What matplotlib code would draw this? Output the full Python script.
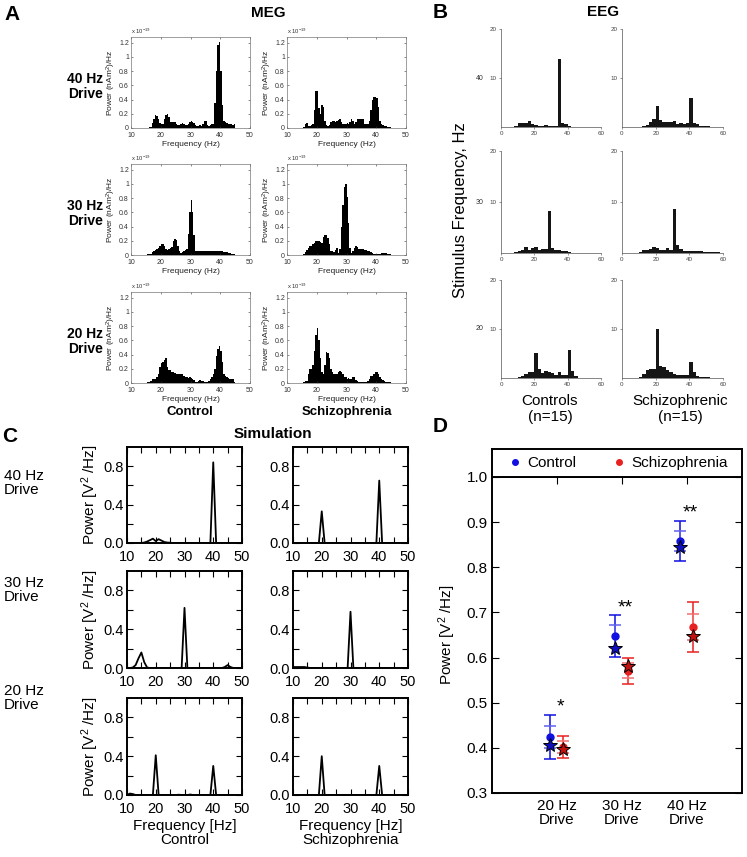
import numpy as np
import matplotlib
matplotlib.use("Agg")
import matplotlib.pyplot as plt

plt.rcParams['font.family'] = ['Liberation Sans', 'DejaVu Sans']
plt.rcParams['mathtext.fontset'] = 'custom'
plt.rcParams['mathtext.rm'] = 'Liberation Sans'
plt.rcParams['mathtext.it'] = 'Liberation Sans:italic'

# ---------------- A: MEG spectra, 0.5 Hz bins from 15 to 45 Hz (x 1e-19)
meg_edges = np.arange(15, 45.5, 0.5)
meg_ctrl40 = [0, 0, 0.01, 0.02, 0.07, 0.13, 0.18, 0.17, 0.12, 0.07,
              0.05, 0.06, 0.13, 0.18, 0.20, 0.15, 0.09, 0.08, 0.08, 0.08,
              0.05, 0.04, 0.04, 0.06, 0.07, 0.05, 0.04, 0.04, 0.06, 0.09,
              0.10, 0.09, 0.07, 0.04, 0.03, 0.03, 0.04, 0.03, 0.06, 0.10,
              0.10, 0.04, 0.03, 0.04, 0.05, 0.05, 0.35, 0.80, 1.17, 1.21,
              0.80, 0.32, 0.10, 0.08, 0.07, 0.06, 0.05, 0.05, 0.04, 0.05]
meg_scz40 = [0, 0.02, 0.05, 0.07, 0.03, 0.03, 0.04, 0.06, 0.25, 0.52,
             0.52, 0.28, 0.20, 0.33, 0.30, 0.10, 0.04, 0.03, 0.04, 0.09,
             0.10, 0.10, 0.09, 0.10, 0.11, 0.12, 0.08, 0.06, 0.05, 0.06,
             0.07, 0.06, 0.08, 0.12, 0.10, 0.06, 0.08, 0.13, 0.13, 0.12,
             0.13, 0.12, 0.06, 0.05, 0.06, 0.10, 0.25, 0.40, 0.44, 0.43,
             0.42, 0.30, 0.10, 0.05, 0.04, 0.03, 0.03, 0.02, 0.02, 0.01]
meg_ctrl30 = [0, 0.01, 0.01, 0.02, 0.04, 0.05, 0.07, 0.08, 0.10, 0.13,
              0.15, 0.16, 0.12, 0.09, 0.07, 0.08, 0.10, 0.11, 0.20, 0.22,
              0.21, 0.12, 0.05, 0.03, 0.04, 0.06, 0.07, 0.08, 0.30, 0.60,
              0.77, 0.60, 0.28, 0.06, 0.05, 0.05, 0.05, 0.05, 0.05, 0.05,
              0.05, 0.05, 0.05, 0.05, 0.05, 0.05, 0.05, 0.05, 0.06, 0.06,
              0.05, 0.05, 0.04, 0.04, 0.04, 0.03, 0.03, 0.02, 0.02, 0.01]
meg_scz30 = [0, 0.01, 0.04, 0.07, 0.10, 0.12, 0.13, 0.15, 0.17, 0.19,
             0.19, 0.20, 0.18, 0.17, 0.25, 0.28, 0.28, 0.24, 0.15, 0.05,
             0.05, 0.04, 0.07, 0.10, 0.03, 0.08, 0.40, 0.70, 0.95, 1.00,
             0.82, 0.45, 0.10, 0.03, 0.05, 0.10, 0.12, 0.11, 0.09, 0.08,
             0.08, 0.08, 0.07, 0.07, 0.06, 0.05, 0.04, 0.03, 0.02, 0.02,
             0.01, 0.01, 0.02, 0.03, 0.03, 0.03, 0.03, 0.02, 0.02, 0.01]
meg_ctrl20 = [0, 0.01, 0.02, 0.03, 0.06, 0.06, 0.05, 0.08, 0.12, 0.22,
              0.28, 0.30, 0.33, 0.35, 0.22, 0.18, 0.18, 0.16, 0.16, 0.14,
              0.13, 0.13, 0.13, 0.12, 0.12, 0.10, 0.09, 0.08, 0.07, 0.08,
              0.07, 0.05, 0.04, 0.02, 0.02, 0.03, 0.04, 0.03, 0.03, 0.02,
              0.02, 0.02, 0.03, 0.05, 0.08, 0.12, 0.20, 0.38, 0.48, 0.52,
              0.45, 0.30, 0.12, 0.10, 0.08, 0.07, 0.06, 0.05, 0.05, 0.02]
meg_scz20 = [0, 0.01, 0.03, 0.03, 0.12, 0.20, 0.20, 0.25, 0.45, 0.68,
             0.78, 0.60, 0.35, 0.15, 0.12, 0.25, 0.43, 0.42, 0.35, 0.20,
             0.15, 0.12, 0.12, 0.12, 0.15, 0.17, 0.16, 0.12, 0.08, 0.08,
             0.06, 0.07, 0.05, 0.05, 0.08, 0.09, 0.04, 0.03, 0.02, 0.02,
             0.02, 0.02, 0.02, 0.02, 0.03, 0.06, 0.10, 0.10, 0.13, 0.15,
             0.15, 0.12, 0.08, 0.05, 0.04, 0.03, 0.02, 0.02, 0.01, 0.01]

# ---------------- B: EEG histograms, 2 Hz bins from 0 to 60 Hz
eeg_edges = np.arange(0, 61, 2)
eeg_ctrl40 = [0, 0.05, 0.1, 0.1, 0.3, 0.8, 0.8, 0.9, 1.3, 0.6,
              0.5, 0.3, 0.3, 0.5, 0.3, 0.3, 0.2, 13.9, 0.8, 0.6,
              0.3, 0.1, 0, 0, 0, 0, 0, 0, 0, 0]
eeg_scz40 = [0, 0, 0, 0, 0, 0.1, 0.2, 0.5, 1.0, 1.6,
             4.2, 1.4, 1.0, 1.1, 1.1, 1.3, 0.7, 0.9, 0.7, 0.8,
             5.9, 0.9, 0.7, 0.2, 0.2, 0.2, 0.1, 0, 0, 0]
eeg_ctrl30 = [0, 0, 0, 0, 0.1, 0.3, 0.6, 1.1, 0.6, 0.9,
              1.1, 0.6, 0.8, 0.7, 8.3, 1.0, 0.6, 0.5, 0.4, 0.3,
              0.1, 0, 0, 0, 0, 0, 0, 0, 0, 0]
eeg_scz30 = [0, 0, 0, 0, 0, 0.2, 0.5, 0.6, 0.7, 1.2,
             1.0, 0.6, 0.6, 0.9, 0.5, 8.7, 1.6, 0.8, 0.3, 0.3,
             0.3, 0.3, 0.3, 0.3, 0.2, 0.1, 0.1, 0.1, 0.1, 0.05]
eeg_ctrl20 = [0, 0, 0, 0, 0, 0.2, 0.5, 0.9, 1.3, 1.3,
              5.0, 1.9, 1.1, 1.5, 1.2, 1.0, 0.7, 1.3, 0.6, 0.6,
              5.7, 1.5, 0.5, 0.1, 0, 0, 0, 0, 0, 0]
eeg_scz20 = [0, 0, 0, 0, 0.1, 0.3, 0.9, 1.6, 1.8, 1.8,
             10.0, 2.5, 2.2, 1.6, 1.2, 0.8, 0.7, 0.7, 0.6, 0.6,
             3.3, 1.2, 0.4, 0.3, 0.3, 0.3, 0.1, 0, 0, 0]
eeg_rows = ['40', '30', '20']

# ---------------- C: simulated spectra, 1 Hz steps from 10 to 50 Hz
sim_freq = np.arange(10, 51)
sim_ctrl40 = [0, 0, 0, 0, 0, 0, 0.005, 0.015, 0.03, 0.045,
              0.02, 0.04, 0.025, 0.01, 0.005, 0.003, 0, 0, 0, 0,
              0, 0, 0, 0, 0, 0, 0, 0, 0, 0,
              0.84, 0, 0, 0, 0, 0, 0, 0, 0, 0, 0]
sim_scz40 = [0, 0, 0, 0, 0, 0, 0, 0, 0, 0,
             0.33, 0, 0, 0, 0, 0, 0, 0, 0, 0,
             0, 0, 0, 0, 0, 0, 0, 0, 0, 0,
             0.65, 0, 0, 0, 0, 0, 0, 0, 0, 0, 0]
sim_ctrl30 = [0, 0, 0.005, 0.03, 0.10, 0.16, 0.06, 0.005, 0, 0,
              0, 0, 0, 0, 0, 0, 0, 0, 0, 0,
              0.62, 0, 0, 0, 0, 0, 0, 0, 0, 0,
              0, 0, 0, 0, 0.01, 0.03, 0.01, 0, 0, 0, 0]
sim_scz30 = [0.01, 0.01, 0.01, 0.01, 0.01, 0.005, 0, 0, 0, 0,
             0, 0, 0, 0, 0, 0, 0, 0, 0, 0,
             0.58, 0, 0, 0, 0, 0, 0, 0, 0, 0,
             0, 0, 0, 0, 0, 0, 0, 0, 0, 0, 0]
sim_ctrl20 = [0, 0.015, 0.01, 0, 0, 0, 0, 0, 0, 0,
              0.41, 0, 0, 0, 0, 0, 0, 0, 0.003, 0,
              0, 0, 0.005, 0, 0, 0, 0, 0, 0, 0,
              0.30, 0, 0, 0, 0, 0, 0, 0, 0, 0, 0]
sim_scz20 = [0, 0, 0, 0, 0, 0, 0, 0, 0, 0,
             0.40, 0, 0, 0, 0, 0, 0, 0, 0, 0,
             0, 0, 0, 0, 0, 0, 0, 0, 0, 0,
             0.30, 0, 0, 0, 0, 0, 0, 0, 0, 0, 0]

# ---------------- D: power at drive frequency
drive_labels = ['20 Hz\nDrive', '30 Hz\nDrive', '40 Hz\nDrive']
drive_pos = [1, 2, 3]
ctrl_mean = [0.424, 0.648, 0.858]
ctrl_err_in = [0.024, 0.024, 0.022]
ctrl_err_out = [0.048, 0.047, 0.045]
ctrl_star = [0.407, 0.622, 0.844]
scz_mean = [0.402, 0.571, 0.668]
scz_err_in = [0.013, 0.017, 0.028]
scz_err_out = [0.024, 0.029, 0.056]
scz_star = [0.398, 0.581, 0.648]
signif = ['*', '**', '**']
signif_y = [0.49, 0.71, 0.92]

W, H = 747, 857
fig = plt.figure(figsize=(W / 100, H / 100), dpi=100)


def box(l, t, r, b):
    return [l / W, 1 - b / H, (r - l) / W, (b - t) / H]


def ftext(x, y, s, **kw):
    fig.text(x / W, 1 - y / H, s, **kw)


# ---------- panel A
ftext(12, 14, 'A', fontsize=15, fontweight='bold', ha='center', va='center')
ftext(268, 13, 'MEG', fontsize=11, fontweight='bold', ha='center', va='center')
meg_data = [[meg_ctrl40, meg_scz40], [meg_ctrl30, meg_scz30], [meg_ctrl20, meg_scz20]]
meg_rows = [(37, 128), (164, 255), (292, 383)]
meg_cols = [131, 287]
for r, (t, b) in enumerate(meg_rows):
    ftext(103, (t + b) / 2 + 4, ['40 Hz', '30 Hz', '20 Hz'][r] + '\nDrive', fontsize=10,
          fontweight='bold', ha='right', va='center', linespacing=1.1)
    for c, l in enumerate(meg_cols):
        ax = fig.add_axes(box(l, t, l + 119, b))
        ax.stairs(meg_data[r][c], meg_edges, fill=True, color='black', lw=0)
        ax.set_xlim(10, 50)
        ax.set_ylim(0, 1.28)
        ax.set_xticks([10, 20, 30, 40, 50])
        ax.set_yticks([0, 0.2, 0.4, 0.6, 0.8, 1.0, 1.2])
        ax.set_yticklabels(['0', '0.2', '0.4', '0.6', '0.8', '1', '1.2'])
        ax.tick_params(direction='in', length=1.5, width=0.4, labelsize=5, top=True,
                       right=True, pad=1.5, colors='#333333')
        ax.tick_params(axis='x', pad=3)
        for s in ax.spines.values():
            s.set_linewidth(0.5)
            s.set_color('#777777')
        ax.set_xlabel('Frequency (Hz)', fontsize=6, labelpad=1, color='#222222')
        ax.set_ylabel('Power (nAm$^2$)/Hz', fontsize=6, labelpad=1, color='#222222')
        ax.text(0, 1.03, r'x 10$^{-19}$', transform=ax.transAxes, fontsize=4.2,
                color='#333333')
ftext(190, 412, 'Control', fontsize=9.5, fontweight='bold', ha='center', va='center')
ftext(347, 412, 'Schizophrenia', fontsize=9.5, fontweight='bold', ha='center', va='center')

# ---------- panel B
ftext(440, 13, 'B', fontsize=15, fontweight='bold', ha='center', va='center')
ftext(603, 12, 'EEG', fontsize=11, fontweight='bold', ha='center', va='center')
ftext(460, 210, 'Stimulus Frequency, Hz', fontsize=12, rotation=90, ha='center', va='center')
eeg_data = [[eeg_ctrl40, eeg_scz40], [eeg_ctrl30, eeg_scz30], [eeg_ctrl20, eeg_scz20]]
eeg_rowpix = [(29, 127), (151, 253), (280, 378)]
eeg_colpix = [(501, 601), (622, 723)]
for r, (t, b) in enumerate(eeg_rowpix):
    ftext(480, (t + b) / 2, eeg_rows[r], fontsize=5, ha='center', va='center', color='#333333')
    for c, (l, rr) in enumerate(eeg_colpix):
        ax = fig.add_axes(box(l, t, rr, b))
        ax.stairs(eeg_data[r][c], eeg_edges, fill=True, color='#151515', lw=0)
        ax.set_xlim(0, 60)
        ax.set_ylim(0, 20)
        ax.set_xticks([0, 20, 40, 60])
        ax.set_yticks([10, 20])
        ax.spines['top'].set_visible(False)
        ax.spines['right'].set_visible(False)
        for s in ['left', 'bottom']:
            ax.spines[s].set_linewidth(0.5)
            ax.spines[s].set_color('#555555')
        ax.tick_params(direction='out', length=1.5, width=0.4, labelsize=4.5, pad=1.5,
                       colors='#444444')
ftext(550, 409, 'Controls\n(n=15)', fontsize=11, ha='center', va='center', linespacing=1.2)
ftext(680, 409, 'Schizophrenic\n(n=15)', fontsize=11, ha='center', va='center', linespacing=1.2)

# ---------- panel C
ftext(10, 436, 'C', fontsize=15, fontweight='bold', ha='center', va='center')
ftext(273, 434, 'Simulation', fontsize=11, fontweight='bold', ha='center', va='center')
sim_data = [[sim_ctrl40, sim_scz40], [sim_ctrl30, sim_scz30], [sim_ctrl20, sim_scz20]]
sim_rows = [(447, 543), (571, 668), (698, 795)]
sim_cols = [(127, 242), (293, 408)]
sim_label_y = [483, 590, 698]
for r, (t, b) in enumerate(sim_rows):
    ftext(4, sim_label_y[r], ['40 Hz', '30 Hz', '20 Hz'][r] + '\nDrive', fontsize=11,
          ha='left', va='center', linespacing=1.05)
    for c, (l, rr) in enumerate(sim_cols):
        ax = fig.add_axes(box(l, t, rr, b))
        ax.plot(sim_freq, sim_data[r][c], color='black', lw=1.3)
        ax.set_xlim(10, 50)
        ax.set_ylim(0, 1.0)
        ax.set_xticks([10, 20, 30, 40, 50])
        ax.set_xticks(np.arange(15, 50, 10), minor=True)
        ax.set_yticks([0, 0.4, 0.8])
        ax.set_yticklabels(['0.0', '0.4', '0.8'])
        ax.set_yticks([0.2, 0.6], minor=True)
        ax.tick_params(which='both', direction='in', top=True, right=True, width=0.8,
                       labelsize=10.5, length=4)
        ax.tick_params(axis='x', which='major', pad=5)
        ax.tick_params(axis='y', which='major', pad=2)
        for s in ax.spines.values():
            s.set_linewidth(1.4)
        if c == 0:
            ax.set_ylabel('Power [V$^2$ /Hz]', fontsize=11, labelpad=2)
        if r == 2:
            ax.set_xlabel('Frequency [Hz]\n' + ['Control', 'Schizophrenia'][c], fontsize=11,
                          labelpad=2, linespacing=1.0)

# ---------- panel D
ftext(440, 426, 'D', fontsize=15, fontweight='bold', ha='center', va='center')
ax = fig.add_axes(box(492, 477, 742, 793))
x_ctrl = np.array(drive_pos) - 0.1
x_scz = np.array(drive_pos) + 0.1
ax.errorbar(x_ctrl, ctrl_mean, yerr=ctrl_err_out, fmt='none', ecolor='#1010e0', capsize=4.5,
            elinewidth=1.1, capthick=1.1)
ax.errorbar(x_ctrl, ctrl_mean, yerr=ctrl_err_in, fmt='none', ecolor='#6060f0', capsize=4.5,
            elinewidth=1.1, capthick=1.1)
ax.errorbar(x_scz, scz_mean, yerr=scz_err_out, fmt='none', ecolor='#e82020', capsize=4.5,
            elinewidth=1.1, capthick=1.1)
ax.errorbar(x_scz, scz_mean, yerr=scz_err_in, fmt='none', ecolor='#f07070', capsize=4.5,
            elinewidth=1.1, capthick=1.1)
h1, = ax.plot(x_ctrl, ctrl_mean, 'o', color='#1010e0', ms=5, ls='none')
h2, = ax.plot(x_scz, scz_mean, 'o', color='#e82020', ms=5, ls='none')
ax.plot(x_ctrl, ctrl_star, '*', mfc='#1010c0', mec='black', mew=0.7, ms=10, ls='none')
ax.plot(x_scz, scz_star, '*', mfc='#c01010', mec='black', mew=0.7, ms=10, ls='none')
for p, s, y in zip(drive_pos, signif, signif_y):
    ax.text(p + 0.05, y, s, fontsize=14, ha='center', va='center')
ax.set_xlim(0, 3.85)
ax.set_ylim(0.3, 1.0)
ax.set_xticks(drive_pos)
ax.set_xticklabels(drive_labels, fontsize=11, linespacing=1.0)
ax.set_yticks(np.arange(0.3, 1.01, 0.1))
ax.set_yticklabels([f'{v:.1f}' for v in np.arange(0.3, 1.01, 0.1)], fontsize=11)
ax.tick_params(axis='y', direction='in', left=True, right=True, length=5, width=0.8, pad=3)
ax.tick_params(axis='x', direction='in', bottom=False, top=True, length=5, width=0.8, pad=4)
for s in ax.spines.values():
    s.set_linewidth(1.4)
ax.set_ylabel('Power [V$^2$ /Hz]', fontsize=11, labelpad=6)

lax = fig.add_axes(box(492, 449, 742, 477))
lax.set_xticks([])
lax.set_yticks([])
for s in lax.spines.values():
    s.set_linewidth(1.4)
lax.legend([h1, h2], ['Control', 'Schizophrenia'], ncol=2, loc='center', frameon=False,
           fontsize=11, handletextpad=0.2, columnspacing=2.2, markerscale=0.8,
           handlelength=1.2)

fig.savefig('out.png', dpi=100)
